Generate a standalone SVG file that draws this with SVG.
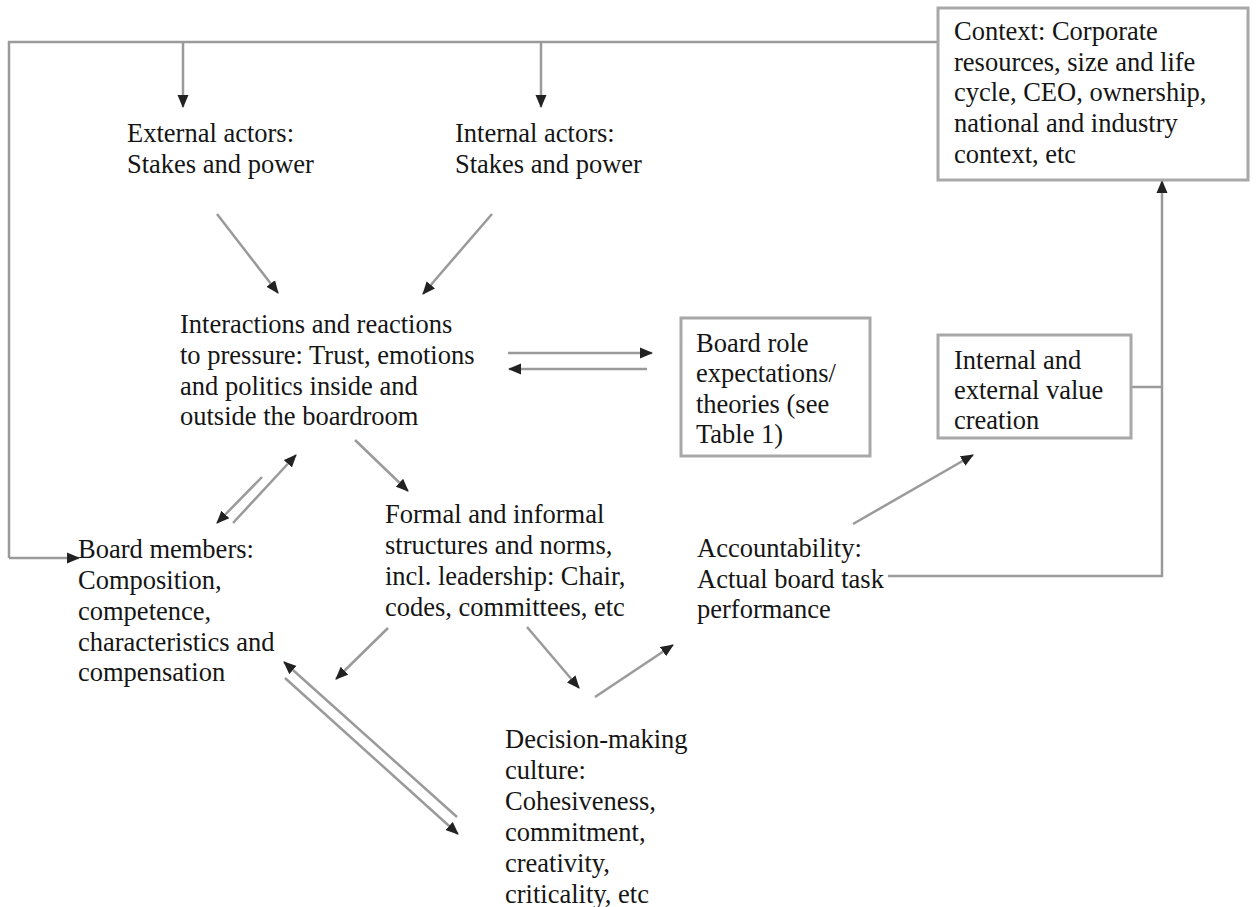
<svg xmlns="http://www.w3.org/2000/svg" width="1256" height="907" viewBox="0 0 1256 907">
<style>
text{font-family:"Liberation Serif",Tinos,"Times New Roman",Times,"DejaVu Serif",serif;font-size:26.5px;fill:#151515}
.box{fill:#fff;stroke:#a8a8a8;stroke-width:3}
.c{fill:none;stroke:#9a9a9a;stroke-width:2.5}
.a{marker-end:url(#ah)}
</style>
<defs>
<marker id="ah" markerUnits="userSpaceOnUse" markerWidth="13" markerHeight="12" refX="12" refY="6" orient="auto">
<path d="M0,0.5 L13,6 L0,11.5 Z" fill="#222"/>
</marker>
</defs>
<rect width="1256" height="907" fill="#fff"/>
<g id="connectors">
<polyline class="c" points="938,42 9,42 9,558"/>
<line class="c a" x1="9" y1="558" x2="79" y2="558"/>
<line class="c a" x1="183" y1="42" x2="183" y2="107"/>
<line class="c a" x1="541" y1="42" x2="541" y2="107"/>
<line class="c a" x1="217" y1="214" x2="278" y2="293"/>
<line class="c a" x1="492" y1="214" x2="423" y2="294"/>
<line class="c a" x1="508" y1="353" x2="652" y2="353"/>
<line class="c a" x1="647" y1="369" x2="509" y2="369"/>
<line class="c a" x1="233" y1="523" x2="296" y2="455"/>
<line class="c a" x1="262" y1="477" x2="217" y2="523"/>
<line class="c a" x1="355" y1="440" x2="408" y2="491"/>
<line class="c a" x1="388" y1="628" x2="336" y2="679"/>
<line class="c a" x1="457" y1="817" x2="284" y2="662"/>
<line class="c a" x1="285" y1="678" x2="458" y2="834"/>
<line class="c a" x1="527" y1="627" x2="579" y2="688"/>
<line class="c a" x1="595" y1="697" x2="673" y2="645"/>
<line class="c a" x1="853" y1="524" x2="973" y2="455"/>
<polyline class="c" points="1131,387 1162,387"/>
<polyline class="c" points="888,576 1162,576 1162,390"/>
<line class="c a" x1="1162" y1="390" x2="1162" y2="181"/>
</g>
<g id="context">
<rect class="box" x="938" y="8" width="310" height="172"/>
<text x="954" y="40">Context: Corporate</text>
<text x="954" y="71">resources, size and life</text>
<text x="954" y="101">cycle, CEO, ownership,</text>
<text x="954" y="132">national and industry</text>
<text x="954" y="163">context, etc</text>
</g>
<g id="external-actors">
<text x="127" y="142">External actors:</text>
<text x="127" y="173">Stakes and power</text>
</g>
<g id="internal-actors">
<text x="455" y="142">Internal actors:</text>
<text x="455" y="173">Stakes and power</text>
</g>
<g id="interactions">
<text x="180" y="333">Interactions and reactions</text>
<text x="180" y="364">to pressure: Trust, emotions</text>
<text x="180" y="395">and politics inside and</text>
<text x="180" y="425">outside the boardroom</text>
</g>
<g id="board-role">
<rect class="box" x="681" y="318" width="189" height="138"/>
<text x="696" y="352">Board role</text>
<text x="696" y="382">expectations/</text>
<text x="696" y="413">theories (see</text>
<text x="696" y="443">Table 1)</text>
</g>
<g id="value-creation">
<rect class="box" x="938" y="335" width="193" height="103"/>
<text x="954" y="369">Internal and</text>
<text x="954" y="399">external value</text>
<text x="954" y="429">creation</text>
</g>
<g id="board-members">
<text x="78" y="558">Board members:</text>
<text x="78" y="589">Composition,</text>
<text x="78" y="620">competence,</text>
<text x="78" y="651">characteristics and</text>
<text x="78" y="681">compensation</text>
</g>
<g id="structures">
<text x="385" y="523">Formal and informal</text>
<text x="385" y="554">structures and norms,</text>
<text x="385" y="585">incl. leadership: Chair,</text>
<text x="385" y="616">codes, committees, etc</text>
</g>
<g id="accountability">
<text x="697" y="557">Accountability:</text>
<text x="697" y="588">Actual board task</text>
<text x="697" y="618">performance</text>
</g>
<g id="decision-making">
<text x="505" y="748">Decision-making</text>
<text x="505" y="779">culture:</text>
<text x="505" y="810">Cohesiveness,</text>
<text x="505" y="841">commitment,</text>
<text x="505" y="872">creativity,</text>
<text x="505" y="903">criticality, etc</text>
</g>
</svg>
